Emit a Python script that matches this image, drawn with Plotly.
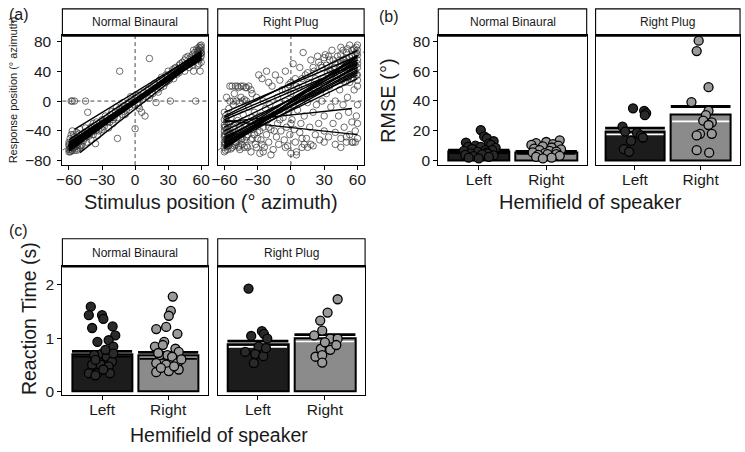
import plotly.graph_objects as go

W, H = 745, 452
FONT = "Liberation Sans, Arial, sans-serif"

# ---------------- data ----------------
facets = ["Normal Binaural", "Right Plug"]
hemis = ["Left", "Right"]

# Panel (a): response vs stimulus, Normal Binaural
nb_x = [-60, -60, -60, -59, -59, -58, -58, -57, -57, -56, -56, -55, -55, -54, -53, -53, -52, -51, -50, -50,
        -48, -48, -46, -45, -44, -42, -42, -40, -40, -38, -38, -36, -35, -34, -32, -30, -30, -28, -27, -25,
        -24, -22, -20, -20, -16, -18, -16, -14, -14, -12, -10, -10, -8, -6, -5, -3, 0, -1, 0, 2,
        3, 4, 5, 6, 8, 9, 10, 12, 13, 13, 15, 16, 18, 19, 20, 22, 23, 25, 26, 28,
        29, 30, 31, 33, 34, 35, 37, 38, 40, 40, 42, 43, 45, 45, 47, 48, 49, 50, 52, 52,
        53, 54, 53, 55, 56, 56, 57, 57, 58, 58, 59, 59, 60, 60, 60, 60, -58, -57, -55, -45,
        -43, -36, 32, -60, -59, -58, -57, -56, -55, -54, -52, -50, 58, 59, 60, 57, 56, 55,
        -60, -59, -58, -57, -56, -55, -54, -53, -52, -51, -50, -49, -47, -46, -44, -43, -41, -39, -37, -33,
        -31, -29, -26, -23, -21, -19, -17, -13, -11, -9, -7, -4, 1, 3, 7, 11, 14, 17, 21, 24,
        27, 32, 36, 39, 41, 44, 46, 48, 51, 53, 55, 57, 58, 59, 60, 60, 59, 58]
nb_y = [-60, -55, -65, -50, -62, -45, -67, -58, -40, -52, -63, -48, -66, -57, -42, -60, -50, -55, -38, -62,
        -45, -58, -50, -36, -55, -40, -47, -35, -52, -30, -45, -40, -28, -46, -30, -25, -38, -34, -20, -28,
        -36, -18, -25, -30, -50, -14, -22, -10, 40, -18, -6, -14, -12, -2, -8, 2, -37, -5, 4, -2,
        8, -10, 5, -15, 12, -20, 6, 16, 4, 57, 20, 10, 24, -2, 15, 28, 18, 30, 20, 35,
        26, 40, 28, 36, 42, 30, 45, 36, 48, 38, 44, 52, 40, 55, 50, 60, 45, 58, 48, 62,
        55, 65, 40, 0, 70, 58, 62, 48, 72, 55, 66, 40, 60, 75, 52, 68, 0, 0, 0, 0,
        -15, -57, 0, -68, -64, -62, -66, -60, -62, -58, -64, -60, 65, 70, 64, 68, 60, 58,
        -58, -68, -56, -62, -45, -60, -50, -66, -58, -44, -52, -60, -53, -42, -48, -40, -44, -36, -33, -40,
        -36, -28, -24, -28, -14, -22, -8, -12, -2, -18, -4, 6, 8, -6, 2, 14, 8, 22, 12, 32,
        24, 34, 44, 40, 50, 46, 58, 50, 56, 68, 62, 66, 50, 58, 64, 72, 74, 68]

# Panel (a): Right Plug
rp_x = [-60, -60, -60, -60, -60, -60, -60, -59, -59, -59, -59, -59, -58, -58, -58, -58, -57, -57, -56, -56,
        -56, -55, -55, -54, -54, -53, -53, -52, -52, -51, -50, -50, -49, -48, -48, -47, -46, -45, -45, -45,
        -44, -43, -42, -41, -40, -40, -39, -38, -38, -37, -36, -35, -35, -34, -33, -32, -31, -30, -30, -29,
        -28, -28, -27, -26, -25, -25, -24, -23, -22, -22, -21, -20, -20, -19, -18, -17, -16, -15, -14, -13,
        -12, -12, -11, -10, -10, -9, -8, -7, -6, -5, -5, -4, -3, -2, -2, -1, 0, 0, 1, 2,
        2, 3, 4, 4, 5, 6, 7, 8, 8, 9, 10, 10, 11, 12, 13, 14, 15, 16, 17, 18,
        18, 19, 20, 21, 22, 23, 24, 25, 25, 26, 27, 28, 29, 30, 30, 31, 32, 33, 34, 35,
        35, 36, 37, 38, 39, 40, 40, 41, 42, 43, 44, 45, 45, 46, 47, 48, 48, 49, 50, 50,
        51, 52, 52, 53, 53, 54, 55, 55, 56, 56, 57, 57, 58, 58, 59, 59, 60, 60, 60, 60,
        60, 60, 60, 60, 58, 55, -58, -57, -55, -50, -47, -44, -42, 45, 50, 55, 60, 35,
        -60, -60, -60, -60, -59, -58, -58, -57, -57, -56, -55, -55, -54, -53, -52, -51, -50, -49, -48, -47,
        -46, -45, -44, -43, -42, -41, -40, -39, -38, -36, -35, -33, -31, -30, -28, -26,
        -55, -50, -47, -43, -40, -36, -52, -46, -42, -58,
        40, 42, 44, 45, 46, 47, 48, 49, 50, 51, 52, 53, 54, 55, 55, 56, 57, 58, 58, 59,
        59, 60, 60, 60, 57, 53, 50, 47, 44, 38, 36, 34, 32, 30, 28, 25, 22, 20, 15, 10,
        5, 0, -5, -10, -15, -20, 0, 10, 20, 30, 40, 45, 50, 15, -5, -25, -18, 5, 12]
rp_y = [-15, -25, -32, -40, -48, -55, -62, -20, -35, -45, -58, -66, -28, -38, -52, -60, -42, -65, -10, -30,
        -50, 0, -56, -22, -44, 20, -62, -5, -35, 10, -48, -58, 0, 20, -26, -40, -65, 20, 5, -52,
        0, -18, -33, 18, -60, 0, -45, 20, -8, -28, -68, 10, -50, -38, -15, -58, 5, -30, -42, 35,
        -70, -20, -52, 30, 0, -35, -62, -10, 40, -45, -25, 25, -55, -5, -38, 20, -65, -18, 35, -48,
        5, -30, -58, 28, -12, -40, 15, -22, -52, 40, 0, -35, -60, 22, -15, -45, 10, -70, -25, 50,
        -5, -38, 30, -55, -68, -12, 18, -42, 45, -30, 5, -62, 65, -20, 35, -50, -2, 25, -35, 55,
        -58, 10, -15, 40, -45, -5, 60, 20, -30, -52, 48, 0, 30, -40, -20, 62, 10, 38, -48, 20,
        55, -8, 68, -30, 45, -42, 0, 30, 60, -20, 15, 72, -50, 40, -5, 55, -35, 25, 65, -55,
        5, 45, -15, 75, -45, 30, -28, 60, 50, -55, 70, 15, -40, 40, 65, -20, 55, 35, -5, -50,
        75, 45, 20, -30, -55, -55, -50, -60, -45, -55, -60, -50, -62, 50, 58, 62, 68, 42,
        -35, -58, -45, -68, -52, -42, -25, -55, -35, -60, -45, -38, -64, -50, -42, -60, -30, -55, -45, -62,
        -35, -48, -58, -42, -52, -30, -48, -62, -38, -52, -22, -45, -62, -50, -40, -58,
        20, 20, 18, 20, 18, 15, 0, -2, 2, 5,
        50, 35, 55, 62, 28, 68, 45, 38, 52, 70, 32, 58, 48, 40, 68, 30, 55, 62, 48, 35,
        72, 28, 62, 50, 40, 25, 42, 55, 45, 55, 40, 60, 48, 58, 45, 52, 30, 45, 38, 30,
        20, 25, 15, -25, -40, -35, -30, -50, -60, -55, -58, -62, -48, -62, -62, -68, -72, -72, -58]

# Panel (a): per-subject regression lines (endpoints)
nb_line_x0 = [-60] * 28 + [-50, -55]
nb_line_x1 = [60] * 28 + [58, 60]
nb_line_y0 = [-62, -60, -58, -64, -61, -59, -63, -57, -60, -62, -66, -58, -61, -59, -60, -63, -55, -62,
              -60, -64, -58, -61, -67, -59, -56, -62, -60, -52, -69, -38]
nb_line_y1 = [60, 62, 58, 64, 61, 57, 63, 59, 60, 66, 62, 56, 61, 63, 58, 65, 60, 59,
              62, 57, 64, 60, 61, 58, 55, 63, 60, 67, 57, 66]
rp_line_x0 = [-60] * 20
rp_line_x1 = [60, 60, 60, 60, 55, 60, 60, 60, 60, 60, 60, 60, 60, 60, 60, 60, 60, 60, 60, 60]
rp_line_y0 = [-15, -20, -22, -25, -28, -26, -45, -50, -55, -58, -60, -62, -48, -52, -40, -56, -35, -61, -53, -64]
rp_line_y1 = [60, 68, 55, 50, -10, -45, 50, 45, 40, 55, 48, 62, 35, 58, 45, 30, 52, 38, 42, 60]

# Panel (b): RMSE (deg)
rmse_nb_mean = [6.0, 5.3]
rmse_nb_se = [1.0, 0.8]
rmse_rp_mean = [19.7, 31.3]
rmse_rp_se = [2.1, 5.0]
rmse_nb_left = [20.5, 16.2, 15.0, 13.0, 12.1, 11.4, 10.5, 10.0, 9.2, 9.2, 8.5, 7.8, 7.0, 7.0, 6.5,
                5.9, 5.5, 4.8, 4.8, 4.2, 3.8, 3.5, 3.0, 2.5, 2.0, 1.5]
rmse_nb_left_jit = [0.03, 0.08, 0.12, 0.22, -0.19, 0.15, 0.18, -0.05, -0.16, 0.03, 0.25, -0.1, 0.1, 0.2,
                    -0.22, -0.02, 0.12, -0.12, 0.13, 0.05, -0.2, 0.22, -0.08, 0.15, -0.15, 0.0]
rmse_nb_right = [13.6, 12.5, 11.8, 11.0, 10.5, 10.0, 9.5, 8.8, 8.0, 7.5, 7.0, 6.5, 6.0, 5.5, 5.0,
                 4.4, 4.4, 3.8, 3.2, 2.5, 2.0, 1.5]
rmse_nb_right_jit = [0.2, 0.0, -0.15, 0.1, -0.22, 0.18, -0.05, 0.08, -0.18, 0.22, -0.1, 0.05, 0.15, -0.2,
                     -0.02, 0.02, 0.15, -0.12, 0.2, -0.15, 0.08, -0.05]
rmse_rp_left = [35.1, 33.4, 31.8, 30.5, 22.8, 19.5, 18.7, 16.9, 15.5, 13.2, 7.7, 5.9]
rmse_rp_left_jit = [-0.03, 0.14, 0.17, 0.15, -0.19, -0.15, 0.03, 0.09, 0.12, -0.06, -0.17, -0.09]
rmse_rp_right = [80.5, 73.5, 49.3, 39.3, 33.4, 30.5, 26.8, 25.7, 23.9, 18.0, 16.9, 18.0, 7.0, 5.3]
rmse_rp_right_jit = [-0.03, -0.06, 0.12, -0.14, 0.12, 0.08, 0.04, 0.17, 0.12, -0.01, -0.06, 0.17, -0.06, 0.13]

# Panel (c): reaction time (s)
rt_nb_mean = [0.70, 0.67]
rt_nb_se = [0.05, 0.06]
rt_rp_mean = [0.89, 1.00]
rt_rp_se = [0.055, 0.065]
rt_nb_left = [1.59, 1.43, 1.43, 1.36, 1.19, 1.22, 1.05, 0.93, 0.96, 0.84, 0.71, 0.68, 0.65, 0.56, 0.50,
              0.50, 0.47, 0.34, 0.34, 0.34, 0.41, 0.59, 0.71, 0.30, 0.78]
rt_nb_left_jit = [-0.17, -0.2, 0.0, 0.02, -0.15, 0.16, 0.2, -0.07, 0.1, 0.17, 0.0, -0.12, 0.07, 0.15, -0.15,
                  -0.02, 0.1, -0.2, -0.07, 0.12, 0.02, -0.1, 0.17, -0.1, 0.05]
rt_nb_right = [1.78, 1.51, 1.42, 1.17, 1.21, 1.08, 0.84, 0.93, 0.87, 0.80, 0.74, 0.68, 0.68, 0.65, 0.53,
               0.50, 0.53, 0.36, 0.38, 0.41, 0.44, 0.47, 0.60, 0.72]
rt_nb_right_jit = [0.07, 0.04, 0.01, -0.18, -0.03, 0.14, -0.2, -0.06, -0.08, 0.11, 0.16, -0.13, -0.01, 0.06,
                   -0.18, -0.03, 0.14, -0.18, 0.01, 0.16, -0.11, 0.09, 0.2, -0.15]
rt_rp_left = [1.93, 1.13, 1.08, 0.99, 1.04, 0.84, 0.74, 0.70, 0.66, 0.53, 0.81]
rt_rp_left_jit = [-0.14, 0.06, 0.09, 0.14, -0.1, 0.01, -0.19, -0.04, 0.08, -0.06, 0.12]
rt_rp_right = [1.73, 1.48, 1.33, 1.14, 1.05, 0.99, 0.99, 0.80, 0.78, 0.87, 0.65, 0.68, 0.54, 0.92]
rt_rp_right_jit = [0.19, 0.04, -0.07, -0.04, -0.16, 0.08, 0.19, -0.06, 0.08, 0.17, -0.14, -0.04, -0.04, 0.0]

# ---------------- layout helpers ----------------
ROW1 = (33, 165)
ROW2 = (268, 399)
STRIP1 = (6, 33)
STRIP2 = (240, 268)
COLS = {1: (57, 204), 2: (214, 362), 3: (437, 587), 4: (596, 742), 5: (57, 204), 6: (214, 363)}
ROWS = {1: ROW1, 2: ROW1, 3: ROW1, 4: ROW1, 5: ROW2, 6: ROW2}
STRIPS = {1: STRIP1, 2: STRIP1, 3: STRIP1, 4: STRIP1, 5: STRIP2, 6: STRIP2}
XR = {1: [-66, 66], 2: [-66, 66], 3: [0.4, 2.6], 4: [0.4, 2.6], 5: [0.4, 2.6], 6: [0.4, 2.6]}
YR = {1: [-85.7, 87.9], 2: [-85.7, 87.9], 3: [-3, 84], 4: [-3, 84], 5: [-0.068, 2.35], 6: [-0.068, 2.35]}


def fx(p):
    return p / W


def fy(p):
    return 1 - p / H


fig = go.Figure()
layout = dict(width=W, height=H, margin=dict(l=0, r=0, t=0, b=0), showlegend=False,
              plot_bgcolor="white", paper_bgcolor="white", font=dict(family=FONT, color="#1a1a1a"))

TICKFONT = dict(family=FONT, size=15.5, color="#1a1a1a")
for i in range(1, 7):
    xs = "" if i == 1 else str(i)
    xa = dict(domain=[fx(COLS[i][0]), fx(COLS[i][1])], range=XR[i], anchor="y" + xs,
              showline=True, mirror=True, linecolor="black", linewidth=1.2, showgrid=False,
              zeroline=False, ticks="outside", ticklen=4, tickcolor="black", tickwidth=1,
              tickfont=TICKFONT, fixedrange=True, ticklabelstandoff=-4)
    if i <= 2:
        xa.update(tickvals=[-60, -30, 0, 30, 60])
    else:
        xa.update(tickvals=[1, 2], ticktext=hemis)
    ya = dict(domain=[fy(ROWS[i][1]), fy(ROWS[i][0])], range=YR[i], anchor="x" + xs,
              showline=True, mirror=True, linecolor="black", linewidth=1.2, showgrid=False,
              zeroline=False, tickfont=TICKFONT, fixedrange=True)
    if i in (1, 3, 5):
        ya.update(ticks="outside", ticklen=4, tickcolor="black", tickwidth=1)
        if i == 1:
            ya.update(tickvals=[-80, -40, 0, 40, 80], ticklabelstandoff=3)
        elif i == 3:
            ya.update(tickvals=[0, 20, 40, 60, 80])
        else:
            ya.update(tickvals=[0, 1, 2])
    else:
        ya.update(ticks="", showticklabels=False)
    layout["xaxis" + xs] = xa
    layout["yaxis" + xs] = ya

shapes = []
annotations = []

# strips
strip_names = {1: facets[0], 2: facets[1], 3: facets[0], 4: facets[1], 5: facets[0], 6: facets[1]}
for i in range(1, 7):
    x0, x1 = COLS[i]
    s0, s1 = STRIPS[i]
    shapes.append(dict(type="rect", xref="paper", yref="paper", x0=fx(x0), x1=fx(x1), y0=fy(s1), y1=fy(s0),
                       fillcolor="white", line=dict(color="black", width=1.1), layer="above"))
    shapes.append(dict(type="line", xref="paper", yref="paper", x0=fx(x0), x1=fx(x1), y0=fy(s1), y1=fy(s1),
                       line=dict(color="black", width=2.6), layer="above"))
    annotations.append(dict(x=fx((x0 + x1) / 2), y=fy((s0 + s1) / 2), xref="paper", yref="paper",
                            text=strip_names[i], showarrow=False, font=dict(size=12, color="#1a1a1a"),
                            xanchor="center", yanchor="middle"))

# panel (a) reference lines + points + regression lines
for i, (px_, py_, lx0, lx1, ly0, ly1) in zip(
        (1, 2),
        ((nb_x, nb_y, nb_line_x0, nb_line_x1, nb_line_y0, nb_line_y1),
         (rp_x, rp_y, rp_line_x0, rp_line_x1, rp_line_y0, rp_line_y1))):
    xs = "" if i == 1 else str(i)
    shapes.append(dict(type="line", xref="x" + xs, yref="y" + xs + " domain", x0=0, x1=0, y0=0, y1=1,
                       line=dict(color="#333", width=0.9, dash="4px,3px"), layer="below"))
    shapes.append(dict(type="line", xref="x" + xs + " domain", yref="y" + xs, x0=0, x1=1, y0=0, y1=0,
                       line=dict(color="#333", width=0.9, dash="4px,3px"), layer="below"))
    shapes.append(dict(type="line", xref="x" + xs, yref="y" + xs, x0=XR[i][0], x1=XR[i][1],
                       y0=XR[i][0], y1=XR[i][1], line=dict(color="#555", width=0.9, dash="4px,3px"),
                       layer="below"))
    fig.add_trace(go.Scatter(x=px_, y=py_, mode="markers", xaxis="x" + xs, yaxis="y" + xs,
                             marker=dict(symbol="circle-open", size=6.5, color="rgba(55,55,55,0.9)",
                                         line=dict(width=0.8)),
                             hoverinfo="skip"))
    lxs, lys = [], []
    for a, b, c, d in zip(lx0, lx1, ly0, ly1):
        lxs += [a, b, None]
        lys += [c, d, None]
    fig.add_trace(go.Scatter(x=lxs, y=lys, mode="lines", xaxis="x" + xs, yaxis="y" + xs,
                             line=dict(color="black", width=1.4), hoverinfo="skip"))

# bar panels
BAR_FILL = ["#1c1c1c", "#8b8b8b"]
PT_FILL = ["#2a2a2a", "#9a9a9a"]
BAR_W = 0.91
groups = [
    (3, rmse_nb_mean, rmse_nb_se, [(rmse_nb_left, rmse_nb_left_jit), (rmse_nb_right, rmse_nb_right_jit)], "black"),
    (4, rmse_rp_mean, rmse_rp_se, [(rmse_rp_left, rmse_rp_left_jit), (rmse_rp_right, rmse_rp_right_jit)], "white"),
    (5, rt_nb_mean, rt_nb_se, [(rt_nb_left, rt_nb_left_jit), (rt_nb_right, rt_nb_right_jit)], "black"),
    (6, rt_rp_mean, rt_rp_se, [(rt_rp_left, rt_rp_left_jit), (rt_rp_right, rt_rp_right_jit)], "white"),
]
for i, means, ses, pts, lowcol in groups:
    xs = str(i)
    cats = [1, 2]
    fig.add_trace(go.Bar(x=cats, y=means, width=BAR_W, xaxis="x" + xs, yaxis="y" + xs,
                         marker=dict(color=BAR_FILL, line=dict(color="black", width=2)),
                         hoverinfo="skip"))
    hx, hy, lx, ly = [], [], [], []
    for c, m, s in zip(cats, means, ses):
        hx += [c - BAR_W / 2, c + BAR_W / 2, None]
        hy += [m + s, m + s, None]
        lx += [c - BAR_W / 2 + 0.02, c + BAR_W / 2 - 0.02, None]
        ly += [m - s, m - s, None]
    fig.add_trace(go.Scatter(x=hx, y=hy, mode="lines", xaxis="x" + xs, yaxis="y" + xs,
                             line=dict(color="black", width=2.8), hoverinfo="skip"))
    fig.add_trace(go.Scatter(x=lx, y=ly, mode="lines", xaxis="x" + xs, yaxis="y" + xs,
                             line=dict(color=lowcol, width=1.6), hoverinfo="skip"))
    for c, (vals, jit), fill in zip(cats, pts, PT_FILL):
        fig.add_trace(go.Scatter(x=[c + j for j in jit], y=vals, mode="markers",
                                 xaxis="x" + xs, yaxis="y" + xs,
                                 marker=dict(size=9, color=fill, line=dict(color="black", width=1.3)),
                                 hoverinfo="skip"))

# titles and panel labels
def txt(x, y, s, size, angle=0):
    annotations.append(dict(x=fx(x), y=fy(y), xref="paper", yref="paper", text=s, showarrow=False,
                            textangle=angle, font=dict(size=size, color="#1a1a1a"),
                            xanchor="center", yanchor="middle"))

txt(13, 12, "(a)", 16)
txt(387, 14, "(b)", 16)
txt(13, 232, "(c)", 16)
txt(207, 203, "Stimulus position (° azimuth)", 20)
txt(8, 88, "Response position (° azimuth)", 11, -90)
txt(386, 99, "RMSE (°)", 20, -90)
txt(591, 203, "Hemifield of speaker", 20)
txt(24, 321, "Reaction Time (s)", 19.5, -90)
txt(215, 440, "Hemifield of speaker", 19.5)

layout["shapes"] = shapes
layout["annotations"] = annotations
layout["bargap"] = 0
fig.update_layout(**layout)

fig.write_html("out.html", config={"displayModeBar": False},
               post_script="document.body.style.margin='0px';document.body.style.overflow='hidden';")
